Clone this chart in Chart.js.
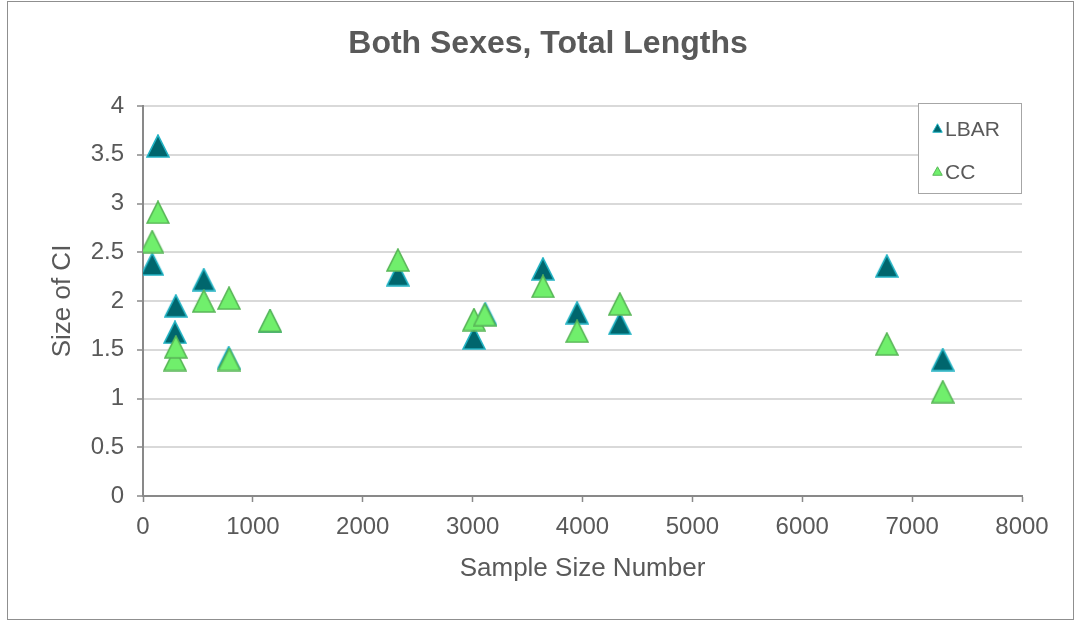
<!DOCTYPE html>
<html>
<head>
<meta charset="utf-8">
<title>Both Sexes, Total Lengths</title>
<script src="https://cdn.jsdelivr.net/npm/chart.js@4.4.1/dist/chart.umd.min.js"></script>
<style>
  html, body { margin: 0; padding: 0; background: #ffffff; }
  #wrap { position: relative; width: 1076px; height: 621px; }
</style>
</head>
<body>
<div id="wrap"><canvas id="chart" width="1076" height="621"></canvas></div>
<script>
// ---- data ----
const chartTitle = 'Both Sexes, Total Lengths';
const xAxisTitle = 'Sample Size Number';
const yAxisTitle = 'Size of CI';
const seriesNames = ['LBAR', 'CC'];

const lbarSampleSize = [84, 136, 291, 299, 553, 780, 1156, 2320, 3012, 3115, 3640, 3951, 4340, 6770, 7279];
const lbarCI         = [2.38, 3.59, 1.68, 1.95, 2.22, 1.42, 1.79, 2.27, 1.62, 1.87, 2.33, 1.88, 1.77, 2.36, 1.40];

const ccSampleSize = [84, 136, 291, 299, 553, 783, 785, 1156, 2320, 3012, 3110, 3640, 3951, 4340, 6770, 7279];
const ccCI         = [2.61, 2.91, 1.40, 1.53, 2.00, 2.03, 1.40, 1.80, 2.42, 1.81, 1.86, 2.15, 1.69, 1.97, 1.56, 1.07];

const xTickValues = [0, 1000, 2000, 3000, 4000, 5000, 6000, 7000, 8000];
const yTickValues = [0, 0.5, 1, 1.5, 2, 2.5, 3, 3.5, 4];

// ---- styling ----
const FONT = "'Liberation Sans', Arial, sans-serif";
const TEXT = '#595959';
const AXIS = '#898989';
const GRID = '#d9d9d9';

const seriesStyle = [
  { fill: '#00666d', stroke: '#22b3c4' },
  { fill: '#70ef6c', stroke: '#59b758' }
];

function toPoints(xs, ys) {
  return xs.map((x, i) => ({ x: x, y: ys[i] }));
}

// Isosceles triangle marker drawn into a small canvas (used as pointStyle)
function triangleMarker(w, h, fill, stroke, lw) {
  const c = document.createElement('canvas');
  c.width = w; c.height = h;
  const g = c.getContext('2d');
  const m = lw / 2 + 0.25;
  g.beginPath();
  g.moveTo(w / 2, m);
  g.lineTo(w - m, h - m);
  g.lineTo(m, h - m);
  g.closePath();
  g.fillStyle = fill;
  g.fill();
  g.lineWidth = lw;
  g.lineJoin = 'miter';
  g.strokeStyle = stroke;
  g.stroke();
  return c;
}

const markers = seriesStyle.map(s => triangleMarker(24, 24, s.fill, s.stroke, 1.6));
const legendMarkers = seriesStyle.map(s => triangleMarker(11, 10, s.fill, s.stroke, 1));

// Background, outer frame and centred heading
const framePlugin = {
  id: 'frame',
  beforeDraw(chart) {
    const ctx = chart.ctx;
    ctx.save();
    ctx.fillStyle = '#ffffff';
    ctx.fillRect(0, 0, chart.width, chart.height);
    ctx.strokeStyle = '#8f8f8f';
    ctx.lineWidth = 1;
    ctx.strokeRect(7.5, 1.5, 1066, 618);
    ctx.fillStyle = TEXT;
    ctx.font = 'bold 32px ' + FONT;
    ctx.textAlign = 'center';
    ctx.textBaseline = 'middle';
    ctx.fillText(chartTitle, 548, 44);
    ctx.restore();
  }
};

// Boxed legend inside the plot's upper-right corner
const boxLegendPlugin = {
  id: 'boxLegend',
  afterDraw(chart) {
    const ctx = chart.ctx;
    const bx = 918.5, by = 103.5, bw = 103, bh = 90;
    ctx.save();
    ctx.fillStyle = '#ffffff';
    ctx.fillRect(bx, by, bw, bh);
    ctx.strokeStyle = '#a6a6a6';
    ctx.lineWidth = 1;
    ctx.strokeRect(bx, by, bw, bh);
    ctx.font = '21px ' + FONT;
    ctx.fillStyle = TEXT;
    ctx.textAlign = 'left';
    ctx.textBaseline = 'middle';
    chart.data.datasets.forEach((ds, i) => {
      const cy = 130 + i * 43;
      ctx.drawImage(legendMarkers[i], 932, cy - 7);
      ctx.fillText(ds.label, 945, cy);
    });
    ctx.restore();
  }
};

new Chart(document.getElementById('chart'), {
  type: 'scatter',
  data: {
    datasets: [
      {
        label: seriesNames[0],
        data: toPoints(lbarSampleSize, lbarCI),
        pointStyle: markers[0],
        backgroundColor: seriesStyle[0].fill,
        borderColor: seriesStyle[0].stroke,
        order: 2
      },
      {
        label: seriesNames[1],
        data: toPoints(ccSampleSize, ccCI),
        pointStyle: markers[1],
        backgroundColor: seriesStyle[1].fill,
        borderColor: seriesStyle[1].stroke,
        order: 1
      }
    ]
  },
  options: {
    responsive: false,
    animation: false,
    events: [],
    layout: { padding: { top: 106, right: 54, bottom: 0, left: 0 } },
    plugins: {
      legend: { display: false },
      title: { display: false },
      tooltip: { enabled: false }
    },
    scales: {
      x: {
        type: 'linear',
        min: xTickValues[0],
        max: xTickValues[xTickValues.length - 1],
        afterBuildTicks(scale) { scale.ticks = xTickValues.map(v => ({ value: v })); },
        afterFit(scale) { scale.height = 125; },
        ticks: {
          color: TEXT,
          font: { family: FONT, size: 24 },
          padding: 11,
          maxRotation: 0,
          callback: v => String(v)
        },
        grid: {
          drawOnChartArea: false,
          drawTicks: true,
          tickLength: 6,
          tickColor: AXIS,
          tickWidth: 1.5
        },
        border: { color: AXIS, width: 2 },
        title: {
          display: true,
          text: xAxisTitle,
          color: TEXT,
          font: { family: FONT, size: 26 },
          padding: { top: 0, bottom: 37 }
        }
      },
      y: {
        type: 'linear',
        min: yTickValues[0],
        max: yTickValues[yTickValues.length - 1],
        afterBuildTicks(scale) { scale.ticks = yTickValues.map(v => ({ value: v })); },
        afterFit(scale) { scale.width = 143; },
        ticks: {
          color: TEXT,
          font: { family: FONT, size: 24 },
          padding: 13,
          callback: v => String(v)
        },
        grid: {
          color: ctx => (ctx.tick && ctx.tick.value === 0) ? 'rgba(0,0,0,0)' : GRID,
          lineWidth: 2,
          drawTicks: true,
          tickLength: 6,
          tickColor: AXIS,
          tickWidth: 1.5
        },
        border: { color: AXIS, width: 2 },
        title: {
          display: true,
          text: yAxisTitle,
          color: TEXT,
          font: { family: FONT, size: 26 },
          padding: { top: 47, bottom: 0 }
        }
      }
    }
  },
  plugins: [framePlugin, boxLegendPlugin]
});
</script>
</body>
</html>
